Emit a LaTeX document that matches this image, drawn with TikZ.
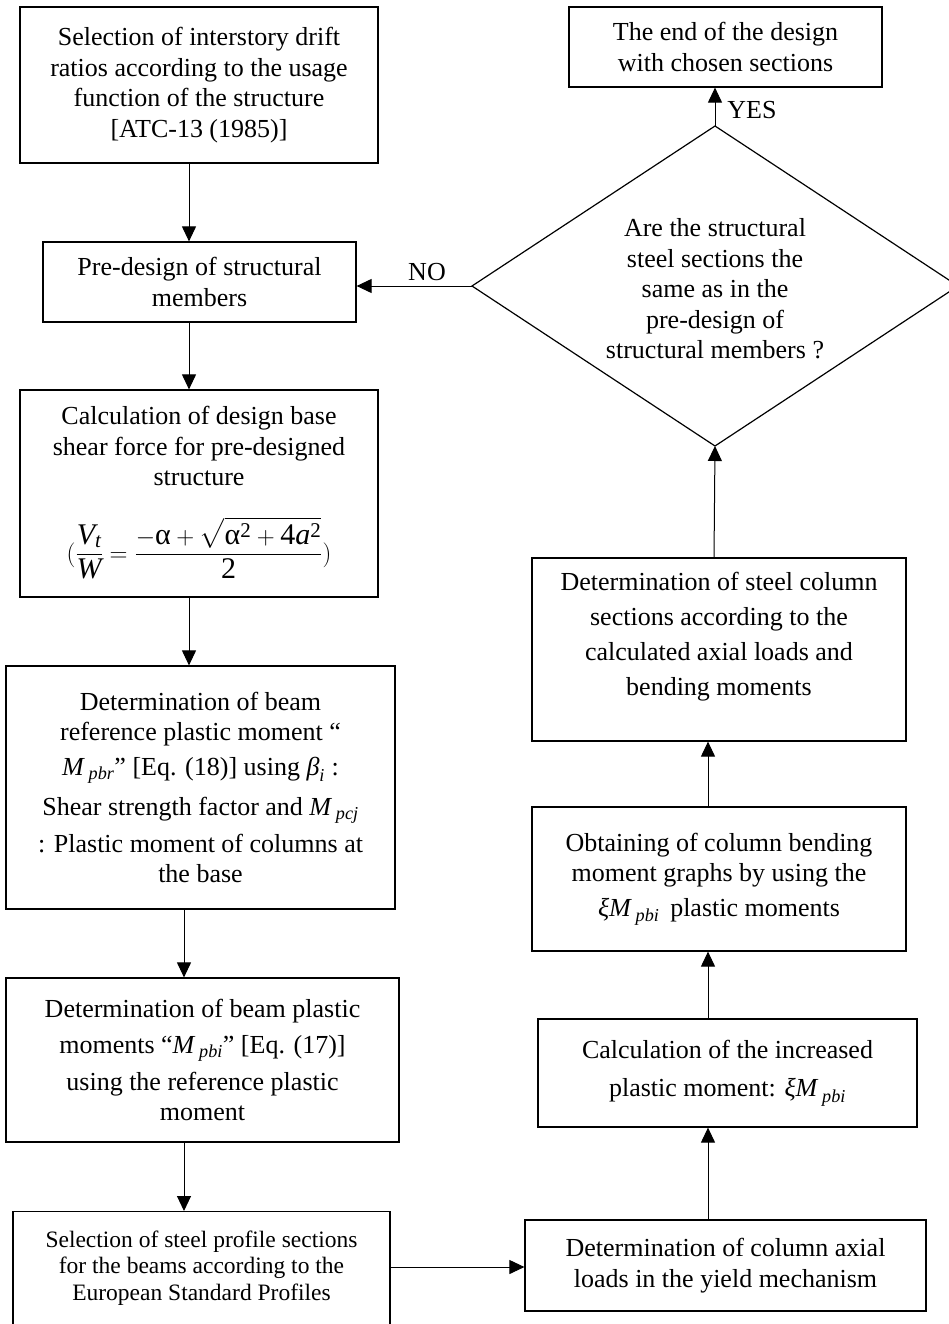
\documentclass[tikz,border=0pt]{standalone}
\usepackage{amsmath}
\usepackage{fontspec}
\setmainfont{Liberation Serif}
\usetikzlibrary{arrows.meta}
\newcommand{\im}[1]{\textit{#1}}
\newcommand{\tx}[1]{\textup{#1}}
\tikzset{
  frame/.style={draw, line width=1.2pt, inner sep=0pt},
  box/.style={frame, align=center, font=\fontsize{26}{30.5}\selectfont},
  txt/.style={inner sep=0pt, align=center, font=\fontsize{26}{30.5}\selectfont},
  arr/.style={line width=1pt, -{Triangle[length=15pt,width=14pt]}},
  lbl/.style={inner sep=0pt, font=\fontsize{26}{30}\selectfont},
}
\begin{document}
\begin{tikzpicture}[x=1pt,y=-1pt]
\useasboundingbox (0,0) rectangle (949,1324);
% left column
\node[box, minimum width=358pt, minimum height=156pt] (b1) at (199,85)
  {Selection of interstory drift\\ratios according to the usage\\function of the structure\\{}[ATC-13 (1985)]};
\node[box, minimum width=313pt, minimum height=80pt] (b2) at (199.5,282)
  {Pre-design of structural\\members};
\node[frame, minimum width=358pt, minimum height=207pt] (b3) at (199,493.5) {};
\node[txt] (b3t) at (199,446)
  {Calculation of design base\\shear force for pre-designed\\structure};
\node[txt, font=\fontsize{30}{34}\selectfont] (b3f) at (199,548)
  {$(\dfrac{\im{V}_{\im{t}}}{\im{W}}=\dfrac{-\tx{α}+\sqrt{\tx{α}^{\tx{2}}+\tx{4}\im{a}^{\tx{2}}}}{\tx{2}})$};
\node[box, minimum width=389pt, minimum height=243pt] (b4) at (200.5,787.5)
  {Determination of beam\\reference plastic moment ``\\[4pt]
   $\im{M}_{\;\im{pbr}}$'' [Eq. (18)] using $\im{β}_{\im{i}}$ :\\[10pt]
   Shear strength factor and $\im{M}_{\;\im{pcj}}$\\[6pt]
   : Plastic moment of columns at\\the base};
\node[box, minimum width=393pt, minimum height=164pt] (b5) at (202.5,1060)
  {Determination of beam plastic\\[6pt]moments ``$\im{M}_{\;\im{pbi}}$'' [Eq. (17)]\\[6pt]using the reference plastic\\moment};
\node[frame, minimum width=377pt, minimum height=140pt, anchor=north] (b6) at (201.5,1211) {};
\node[txt, font=\fontsize{23.5}{26.5}\selectfont] (b6t) at (201.5,1268)
  {Selection of steel profile sections\\for the beams according to the\\European Standard Profiles};
% right column
\node[box, minimum width=313pt, minimum height=80pt] (end) at (725.5,47)
  {The end of the design\\with chosen sections};
\coordinate (dt) at (715,126);
\coordinate (db) at (715,446);
\coordinate (dl) at (472,286);
\coordinate (dr) at (958,286);
\draw[line width=1.2pt] (dt) -- (dr) -- (db) -- (dl) -- cycle;
\node[txt] (dtext) at (715,289)
  {Are the structural\\steel sections the\\same as in the\\pre-design of\\structural members ?};
\node[frame, minimum width=374pt, minimum height=183pt] (b10) at (719,649.5) {};
\node[txt, font=\fontsize{26}{35}\selectfont] (b10t) at (719,637)
  {Determination of steel column\\sections according to the\\calculated axial loads and\\bending moments};
\node[box, minimum width=374pt, minimum height=144pt] (b9) at (719,879)
  {Obtaining of column bending\\moment graphs by using the\\[4pt]$\im{ξM}_{\;\im{pbi}}$\ \,plastic moments};
\node[box, minimum width=379pt, minimum height=108pt] (b8) at (727.5,1073)
  {Calculation of the increased\\[8pt]plastic moment: $\im{ξM}_{\;\im{pbi}}$};
\node[box, minimum width=401pt, minimum height=91pt] (b7) at (725.5,1265.5)
  {Determination of column axial\\loads in the yield mechanism};
% connectors
\coordinate (la) at (189,0);
\coordinate (lb) at (184,0);
\coordinate (ra) at (708,0);
\coordinate (rb) at (714,0);
\coordinate (rc) at (715,0);
\draw[arr] (la |- b1.south) -- (la |- b2.north);
\draw[arr] (la |- b2.south) -- (la |- b3.north);
\draw[arr] (la |- b3.south) -- (la |- b4.north);
\draw[arr] (lb |- b4.south) -- (lb |- b5.north);
\draw[arr] (lb |- b5.south) -- (lb |- b6.north);
\coordinate (hy) at (0,1267);
\draw[arr] (b6.east |- hy) -- (b7.west |- hy);
\draw[arr] (ra |- b7.north) -- (ra |- b8.south);
\draw[arr] (ra |- b8.north) -- (ra |- b9.south);
\draw[arr] (ra |- b9.north) -- (ra |- b10.south);
\draw[arr] (rb |- b10.north) -- (db);
\draw[arr] (dt) -- (rc |- end.south);
\draw[arr] (dl) -- (dl -| b2.east);
\node[lbl] (no) at (427,272) {NO};
\node[lbl] (yes) at (752,110) {YES};
\end{tikzpicture}
\end{document}
